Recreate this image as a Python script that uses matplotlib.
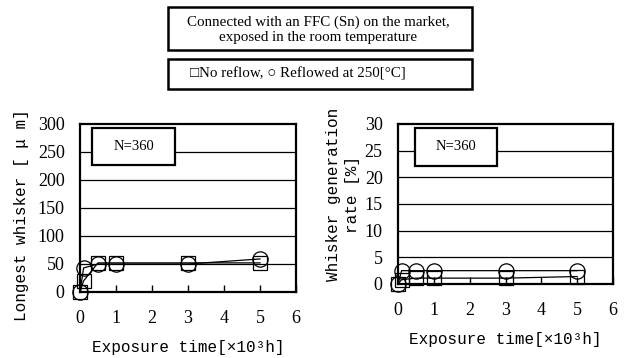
import matplotlib
matplotlib.use("Agg")
import matplotlib.pyplot as plt

# exposure time [x10^3 h]
time_sq = [0, 0.1, 0.5, 1, 3, 5]
time_ci = [0, 0.1, 0.5, 1, 3, 5]

# longest whisker [um]
length_noreflow = [0, 20, 52, 52, 52, 52]
length_reflow = [0, 43, 50, 50, 50, 59]

# whisker generation rate [%]
rate_noreflow = [0, 0.8, 1.1, 1.1, 1.1, 1.4]
rate_reflow = [0, 2.5, 2.5, 2.5, 2.5, 2.5]

W, H = 626, 358
fig = plt.figure(figsize=(W / 100, H / 100), dpi=100)

serif = "Liberation Serif"
mono = "Liberation Mono"


def px_axes(x0, y0, x1, y1):
    return fig.add_axes([x0 / W, 1 - y1 / H, (x1 - x0) / W, (y1 - y0) / H])


def setup(ax, ymax, ystep, ylabel, labelx, labely, nbox):
    ax.set_xlim(0, 6)
    ax.set_ylim(0, ymax)
    ax.set_xticks(range(0, 7))
    ax.set_yticks(range(0, ymax + 1, ystep))
    for y in range(ystep, ymax, ystep):
        ax.axhline(y, color="black", lw=0.9, zorder=1)
    for s in ax.spines.values():
        s.set_linewidth(1.6)
    ax.tick_params(axis="x", direction="in", length=5, width=1, pad=13,
                   labelsize=13)
    ax.tick_params(axis="y", length=0, pad=11, labelsize=13)
    for lab in ax.get_xticklabels() + ax.get_yticklabels():
        lab.set_fontfamily(serif)
    ax.set_xlabel("Exposure time[×10³h]", fontfamily=mono, fontsize=11.5,
                  labelpad=9)
    ax.set_ylabel(ylabel, fontfamily=mono, fontsize=11.5, linespacing=1.4)
    ax.yaxis.set_label_coords(labelx, labely)
    # "N=360" box inside the plot
    x0, y0, x1, y1 = nbox
    ax.add_patch(plt.Rectangle((x0, y0), x1 - x0, y1 - y0,
                               transform=ax.transAxes, fc="white", ec="black",
                               lw=1.6, zorder=5))
    ax.text((x0 + x1) / 2, (y0 + y1) / 2, "N=360", transform=ax.transAxes,
            fontfamily=serif, fontsize=10.5, ha="center", va="center",
            zorder=6)


def draw(ax, y_sq, y_ci):
    ax.plot(time_sq, y_sq, "s-", color="black", mfc="none", mec="black",
            ms=10.5, mew=0.9, lw=0.9, clip_on=False, zorder=3)
    ax.plot(time_ci, y_ci, "o-", color="black", mfc="none", mec="black",
            ms=11, mew=0.9, lw=0.9, clip_on=False, zorder=3)


ax1 = px_axes(80, 124, 296, 292)
setup(ax1, 300, 50, "Longest whisker [ μ m]", -0.235, 0.46,
      (0.056, 0.756, 0.44, 0.976))
draw(ax1, length_noreflow, length_reflow)

ax2 = px_axes(398, 124, 613, 284)
setup(ax2, 30, 5, "Whisker generation\nrate [%]", -0.175, 0.56,
      (0.079, 0.7375, 0.46, 0.975))
draw(ax2, rate_noreflow, rate_reflow)

# header boxes
fig.patches.append(plt.Rectangle((168 / W, 1 - 50 / H), 304 / W, 43 / H,
                                 transform=fig.transFigure, fill=False,
                                 ec="black", lw=1.8))
fig.patches.append(plt.Rectangle((168 / W, 1 - 88.5 / H), 304 / W, 30 / H,
                                 transform=fig.transFigure, fill=False,
                                 ec="black", lw=1.8))
fig.text(318 / W, 1 - 29.5 / H,
         "Connected with an FFC (Sn) on the market,\nexposed in the room temperature",
         ha="center", va="center", fontfamily=serif, fontsize=10.8,
         linespacing=1.2)
fig.text(298 / W, 1 - 73.5 / H, "□No reflow, ○ Reflowed at 250[°C]",
         ha="center", va="center", fontfamily=[serif, "DejaVu Sans"],
         fontsize=10.8)

fig.savefig("out.png", dpi=100)
